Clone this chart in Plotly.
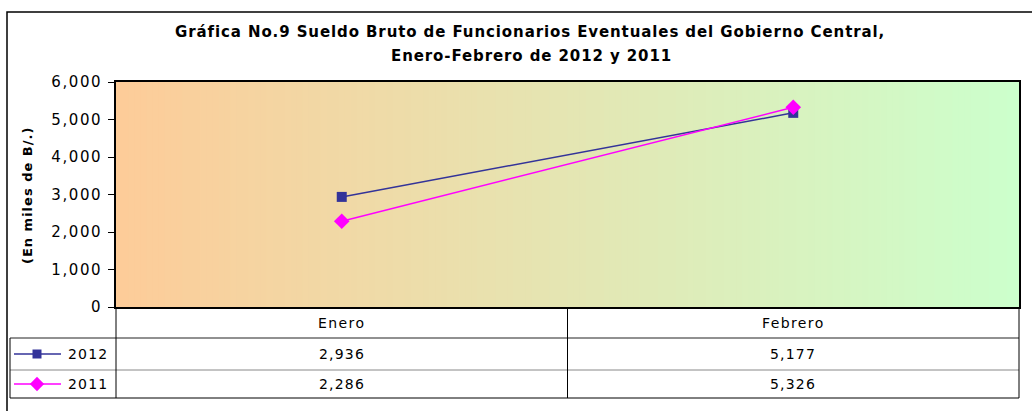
import plotly.graph_objects as go

# ---- data ----
categories = ["Enero", "Febrero"]
series_names = ["2012", "2011"]
values_2012 = [2936, 5177]
values_2011 = [2286, 5326]
y_ticks = [0, 1000, 2000, 3000, 4000, 5000, 6000]
title_line1 = "Gráfica No.9 Sueldo Bruto de Funcionarios Eventuales del Gobierno Central,"
title_line2 = "Enero-Febrero de 2012 y 2011"
y_title = "(En miles de B/.)"

# ---- layout constants (pixels) ----
FW, FH = 1032, 411
L, R, T, B = 116, 1019, 82, 307
W, H = R - L, B - T
FONT = "DejaVu Sans"
colors = {"2012": "#333399", "2011": "#FF00FF"}
symbols = {"2012": "square", "2011": "diamond"}
msize = {"2012": 10, "2011": 12}


def sp(text, ls):
    return f'<span style="letter-spacing:{ls}px">{text}</span>'


def px(x):
    return (x - L) / W


def py(y):
    return (B - y) / H


fig = go.Figure()
series = {"2012": values_2012, "2011": values_2011}
for name in series_names:
    fig.add_trace(go.Scatter(
        x=categories, y=series[name], mode="lines+markers", name=name,
        line=dict(color=colors[name], width=1.5),
        marker=dict(symbol=symbols[name], size=msize[name], color=colors[name]),
        showlegend=False, cliponaxis=False,
    ))

shapes = []
# gradient background of plot area
c0 = (253, 204, 153)
c1 = (204, 255, 204)
N = 150
for i in range(N):
    t = i / (N - 1)
    c = tuple(round(c0[k] + (c1[k] - c0[k]) * t) for k in range(3))
    shapes.append(dict(type="rect", xref="paper", yref="paper",
                       x0=i / N, x1=(i + 1) / N + 0.002, y0=0, y1=1,
                       fillcolor="rgb(%d,%d,%d)" % c, line=dict(width=0), layer="below"))

# outer frame
shapes.append(dict(type="rect", xref="paper", yref="paper",
                   x0=px(7), x1=px(1045), y0=py(12), y1=py(425),
                   line=dict(color="black", width=1.5), fillcolor="rgba(0,0,0,0)"))


def hline(y, x0, x1, color="black", w=1):
    shapes.append(dict(type="line", xref="paper", yref="paper",
                       x0=px(x0), x1=px(x1), y0=py(y), y1=py(y),
                       line=dict(color=color, width=w)))


def vline(x, y0, y1, color="black", w=1):
    shapes.append(dict(type="line", xref="paper", yref="paper",
                       x0=px(x), x1=px(x), y0=py(y0), y1=py(y1),
                       line=dict(color=color, width=w)))


row_cat = (307, 338)
row1 = (338, 370)
row2 = (370, 398)
hline(338, 10, R, "#222222")
hline(370, 10, R, "#888888")
hline(398, 10, R, "black")
vline(10, 338, 398)
vline(L, 307, 398)
vline((L + R) / 2, 307, 398, "black")
vline(R, 307, 398)

annotations = []


def ann(x, y, text, size, xanchor="center", angle=0):
    annotations.append(dict(x=px(x), y=py(y), xref="paper", yref="paper", text=text,
                            xanchor=xanchor, yanchor="middle", textangle=angle, showarrow=False,
                            font=dict(family=FONT, size=size, color="black")))


cat_x = [L + W * (i + 0.5) / len(categories) for i in range(len(categories))]
for cx, cat in zip(cat_x, categories):
    ann(cx, (row_cat[0] + row_cat[1]) / 2, sp(cat, 1.4), 14)
for name, row in zip(series_names, [row1, row2]):
    yc = (row[0] + row[1]) / 2
    for cx, v in zip(cat_x, series[name]):
        ann(cx, yc, sp(f"{v:,.0f}", 1.2), 14)
    # legend key
    hline(yc, 14, 61, colors[name], 1.5)
    ann(66, yc, sp(name, 1.2), 14, xanchor="left")
    s = msize[name] - 1
    if symbols[name] == "square":
        h = s / 2
        shapes.append(dict(type="rect", xref="paper", yref="paper",
                           x0=px(37 - h), x1=px(37 + h), y0=py(yc + h), y1=py(yc - h),
                           fillcolor=colors[name], line=dict(width=0)))
    else:
        h = s * 1.3 / 2
        path = "M {} {} L {} {} L {} {} L {} {} Z".format(
            px(37 - h), py(yc), px(37), py(yc - h), px(37 + h), py(yc), px(37), py(yc + h))
        shapes.append(dict(type="path", xref="paper", yref="paper", path=path,
                           fillcolor=colors[name], line=dict(width=0)))

ann(530, 32, "<b>" + sp(title_line1, 0.9) + "</b>", 15)
ann(531, 56, "<b>" + sp(title_line2, 0.9) + "</b>", 15)
ann(27, 196, "<b>" + sp(y_title, 1.0) + "</b>", 13, angle=-90)

fig.update_layout(
    width=FW, height=FH,
    margin=dict(l=L, r=FW - R, t=T, b=FH - B, pad=0),
    paper_bgcolor="white", plot_bgcolor="rgba(0,0,0,0)",
    shapes=shapes, annotations=annotations,
    xaxis=dict(type="category", range=[-0.5, 1.5], showticklabels=False, ticks="",
               showgrid=False, zeroline=False, showline=True, linecolor="black", linewidth=1.5, mirror=True),
    yaxis=dict(range=[0, 6000], tickvals=y_ticks, ticktext=[sp(f"{v:,d}", 1.6) for v in y_ticks],
               ticks="outside", ticklen=6, ticklabelstandoff=3,
               tickcolor="black", showgrid=False, zeroline=False, showline=True, linecolor="black",
               linewidth=1.5, mirror=True, tickfont=dict(family=FONT, size=15, color="black")),
)

fig.write_html("out.html", config={"displayModeBar": False},
               post_script="document.body.style.margin='0';document.body.style.padding='0';")
